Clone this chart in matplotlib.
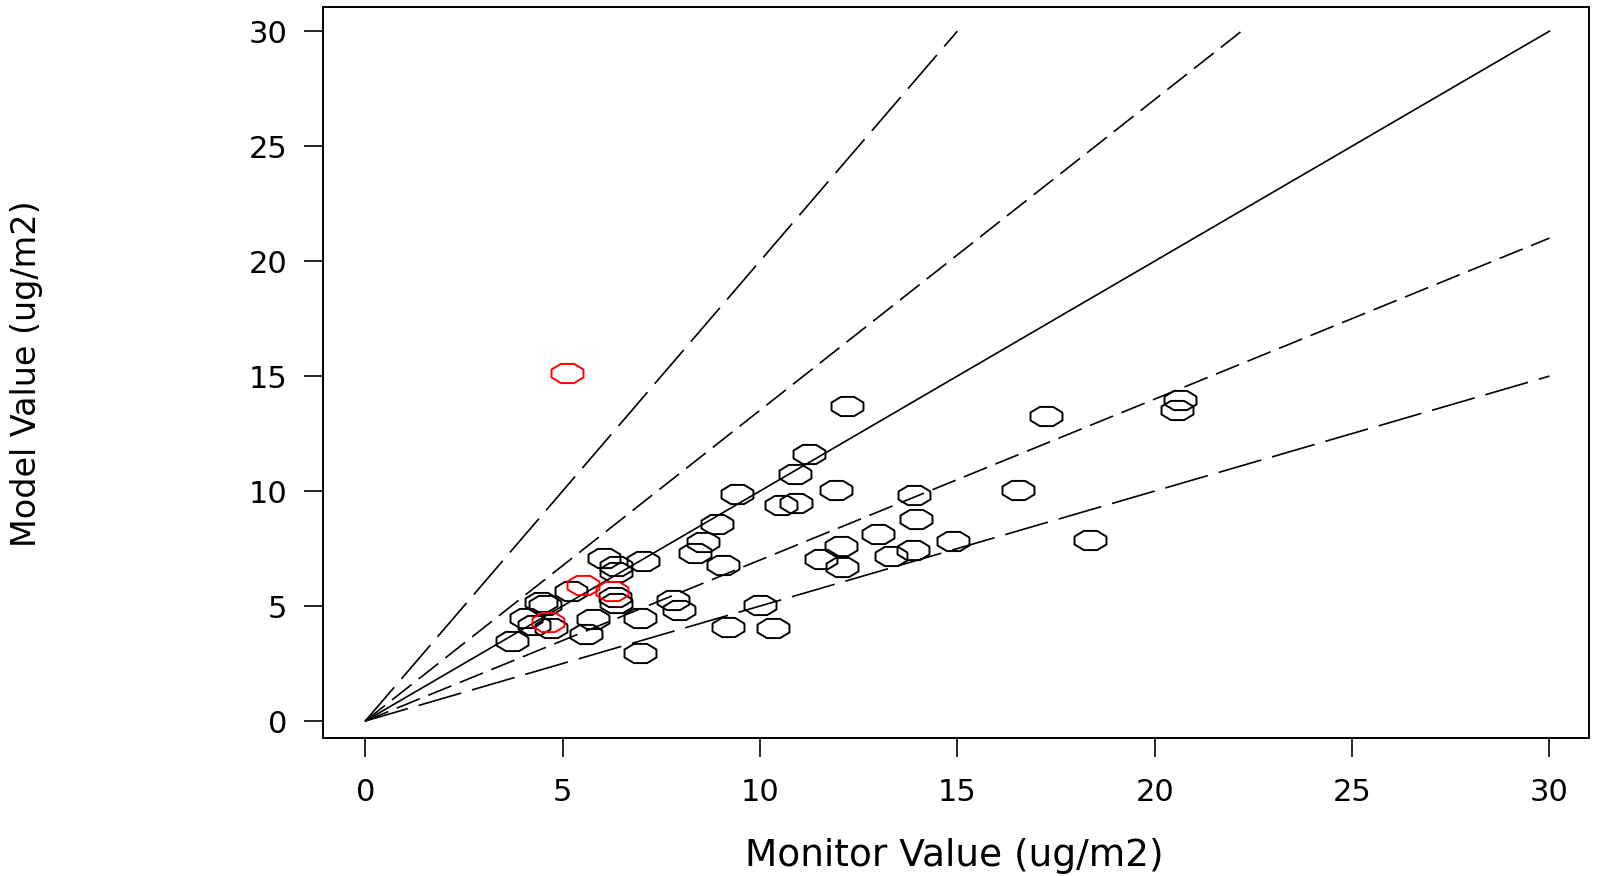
import numpy as np
import matplotlib
matplotlib.use("Agg")
import matplotlib.pyplot as plt

# monitor (x) vs model (y) values, ug/m2
black_x = [12.21, 20.63, 20.57, 17.25, 11.24, 10.88, 9.42, 11.92, 16.53, 10.54,
           10.90, 13.90, 8.92, 13.96, 12.99, 8.55, 14.89, 18.35, 8.35, 12.04,
           11.55, 13.33, 13.87, 12.08, 9.06, 7.03, 6.06, 6.36, 6.36, 7.79,
           7.96, 9.99, 9.19, 10.34, 6.95, 6.95, 5.77, 5.60, 5.22, 6.36,
           6.32, 4.45, 4.55, 4.08, 4.27, 4.71, 3.72]
black_y = [13.72, 13.98, 13.51, 13.28, 11.62, 10.74, 9.89, 10.03, 10.03, 9.38,
           9.48, 9.84, 8.57, 8.78, 8.13, 7.77, 7.81, 7.85, 7.30, 7.59,
           7.06, 7.19, 7.45, 6.69, 6.79, 6.94, 7.09, 6.72, 6.50, 5.27,
           4.83, 5.05, 4.11, 4.06, 4.47, 2.95, 4.45, 3.80, 5.65, 5.13,
           5.38, 5.18, 5.05, 4.47, 4.18, 4.06, 3.47]
red_x = [5.10, 5.51, 6.26, 4.63]
red_y = [15.15, 5.92, 5.66, 4.32]

# reference lines: (end x, end y) from the origin
ref_lines = {
    "2:1": (15.0, 30.0),
    "1.35:1": (22.2, 30.0),
    "1:1": (30.0, 30.0),
    "0.7:1": (30.0, 21.0),
    "0.5:1": (30.0, 15.0),
}
ticks = [0, 5, 10, 15, 20, 25, 30]

plt.rcParams['lines.scale_dashes'] = False
plt.rcParams['font.family'] = ['DejaVu Sans']

fig = plt.figure(figsize=(15.99, 8.76), dpi=100)
ax = fig.add_axes([0.202, 0.1575, 0.7917, 0.8345])

long_dash = (0, (32, 8))
short_dash = (0, (18, 6.5))
styles = {"2:1": long_dash, "1.35:1": short_dash, "1:1": '-',
          "0.7:1": short_dash, "0.5:1": long_dash}
for key, (ex, ey) in ref_lines.items():
    ax.plot([0, ex], [0, ey], color='black', lw=1.2, linestyle=styles[key])

# stretched open octagon marker
ang = np.deg2rad(22.5 + 45 * np.arange(9))
octo = np.column_stack([np.cos(ang), 0.6 * np.sin(ang)])

ax.plot(black_x, black_y, linestyle='none', marker=octo, ms=23,
        mfc='none', mec='black', mew=1.4)
ax.plot(red_x, red_y, linestyle='none', marker=octo, ms=23,
        mfc='none', mec='#ff0000', mew=1.4)

ax.set_xlim(-1.07, 31.0)
ax.set_ylim(-0.74, 31.05)
ax.set_xticks(ticks)
ax.set_yticks(ticks)
ax.tick_params(direction='out', length=13.7, width=1.2, labelsize=22)
ax.tick_params(axis='x', pad=15)
ax.tick_params(axis='y', pad=12)
for s in ax.spines.values():
    s.set_linewidth(1.4)

ax.set_xlabel("Monitor Value (ug/m2)", fontsize=27, va='center')
ax.xaxis.set_label_coords(0.499, -0.161)
ax.set_ylabel("Model Value (ug/m2)", fontsize=24, va='center', ha='center')
ax.yaxis.set_label_coords(-0.234, 0.498)

fig.savefig("out.png", dpi=100)
